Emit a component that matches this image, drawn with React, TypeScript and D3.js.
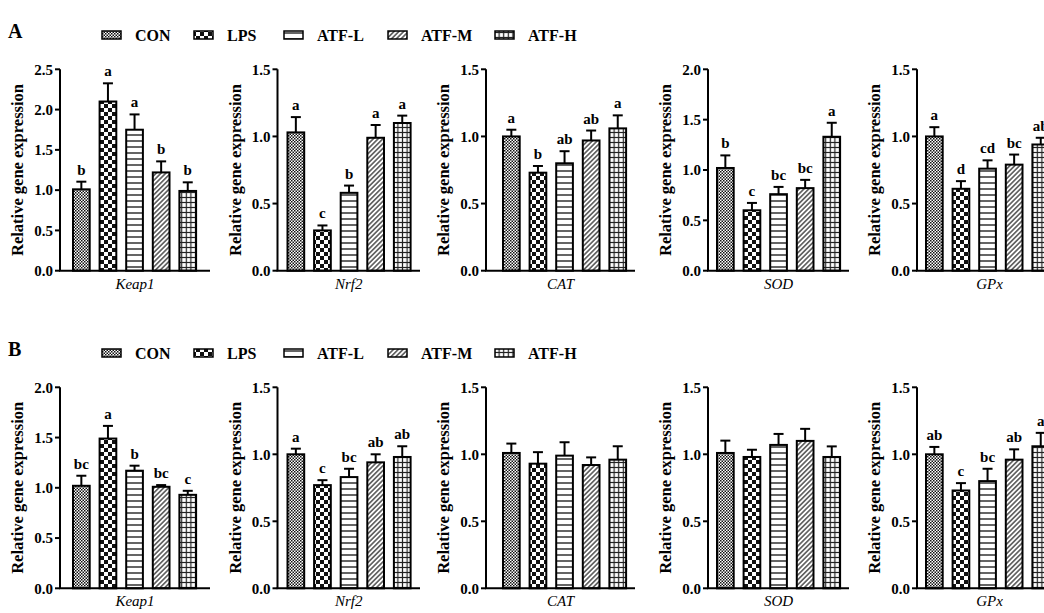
import React from "react";
import * as d3 from "d3";

// groups and genes
const groups = ["CON", "LPS", "ATF-L", "ATF-M", "ATF-H"];
const genes = ["Keap1", "Nrf2", "CAT", "SOD", "GPx"];

// panel A
const yMaxA = [2.5, 1.5, 1.5, 2.0, 1.5];
const meanA = [
  [1.01, 2.1, 1.75, 1.22, 0.99],
  [1.03, 0.3, 0.58, 0.99, 1.1],
  [1.0, 0.73, 0.8, 0.97, 1.06],
  [1.02, 0.6, 0.76, 0.82, 1.33],
  [1.0, 0.61, 0.76, 0.79, 0.94],
];
const errA = [
  [0.095, 0.226, 0.19, 0.137, 0.107],
  [0.114, 0.037, 0.054, 0.095, 0.055],
  [0.05, 0.05, 0.09, 0.074, 0.097],
  [0.125, 0.073, 0.072, 0.082, 0.139],
  [0.069, 0.057, 0.062, 0.075, 0.05],
];
const lettersA = [
  ["b", "a", "a", "b", "b"],
  ["a", "c", "b", "a", "a"],
  ["a", "b", "ab", "ab", "a"],
  ["b", "c", "bc", "bc", "a"],
  ["a", "d", "cd", "bc", "ab"],
];

// panel B
const yMaxB = [2.0, 1.5, 1.5, 1.5, 1.5];
const meanB = [
  [1.02, 1.49, 1.17, 1.01, 0.93],
  [1.0, 0.77, 0.83, 0.94, 0.98],
  [1.01, 0.93, 0.99, 0.92, 0.96],
  [1.01, 0.98, 1.07, 1.1, 0.98],
  [1.0, 0.73, 0.8, 0.96, 1.06],
];
const errB = [
  [0.1, 0.126, 0.05, 0.017, 0.04],
  [0.042, 0.037, 0.062, 0.06, 0.08],
  [0.07, 0.086, 0.1, 0.057, 0.1],
  [0.092, 0.054, 0.082, 0.09, 0.079],
  [0.055, 0.055, 0.092, 0.077, 0.1],
];
const lettersB = [
  ["bc", "a", "b", "bc", "c"],
  ["a", "c", "bc", "ab", "ab"],
  ["", "", "", "", ""],
  ["", "", "", "", ""],
  ["ab", "c", "bc", "ab", "a"],
];

const W = 1044;
const H = 613;
const FONT = "'Liberation Serif', 'Times New Roman', serif";

// layout (pixels)
const axisX = [60, 277.5, 486, 708, 917];
const barStart = [73, 287.5, 503, 717, 926];
const axisEnd = [210, 420, 635, 849, 1062];
const rows = [
  { label: "A", top: 69.3, bottom: 270.7, legendY: 35, labelY: 38, mean: meanA, err: errA, letters: lettersA, yMax: yMaxA },
  { label: "B", top: 387.3, bottom: 588.3, legendY: 353, labelY: 356, mean: meanB, err: errB, letters: lettersB, yMax: yMaxB },
];
const legendTextX = [135, 227, 317, 421, 528];
const patternIds = ["pCon", "pLps", "pAtfL", "pAtfM", "pAtfH"];

function Patterns() {
  return (
    <defs>
      <pattern id="pCon" patternUnits="userSpaceOnUse" width="3" height="3">
        <rect width="3" height="3" fill="#fff" />
        <rect width="1.5" height="1.5" fill="#111" />
        <rect x="1.5" y="1.5" width="1.5" height="1.5" fill="#111" />
      </pattern>
      <pattern id="pLps" patternUnits="userSpaceOnUse" width="8" height="8">
        <rect width="8" height="8" fill="#fff" />
        <rect width="4" height="4" fill="#111" />
        <rect x="4" y="4" width="4" height="4" fill="#111" />
      </pattern>
      <pattern id="pAtfL" patternUnits="userSpaceOnUse" width="6" height="6">
        <rect width="6" height="6" fill="#fff" />
        <line x1="0" x2="6" y1="3" y2="3" stroke="#222" strokeWidth="1.4" />
      </pattern>
      <pattern id="pAtfM" patternUnits="userSpaceOnUse" width="3.4" height="3.4" patternTransform="rotate(45)">
        <rect width="3.4" height="3.4" fill="#fff" />
        <line x1="1.7" x2="1.7" y1="0" y2="3.4" stroke="#222" strokeWidth="1.2" />
      </pattern>
      <pattern id="pAtfH" patternUnits="userSpaceOnUse" width="4.6" height="5">
        <rect width="4.6" height="5" fill="#fff" />
        <line x1="2.3" x2="2.3" y1="0" y2="5" stroke="#222" strokeWidth="1.2" />
        <line x1="0" x2="4.6" y1="2.5" y2="2.5" stroke="#222" strokeWidth="1.2" />
      </pattern>
    </defs>
  );
}

function Panel({ row, gi }) {
  const yMax = row.yMax[gi];
  const y = d3.scaleLinear().domain([0, yMax]).range([row.bottom, row.top]);
  const x = d3
    .scaleBand()
    .domain(groups)
    .range([barStart[gi], barStart[gi] + 4 * 26.6 + 16.7])
    .paddingInner(0.372)
    .paddingOuter(0);
  const ticks = d3.range(0, yMax + 0.001, 0.5);
  const midY = (row.top + row.bottom) / 2;
  const titleX = axisX[gi] - 37;
  return (
    <g>
      {groups.map((g, i) => {
        const m = row.mean[gi][i];
        const e = row.err[gi][i];
        const bx = x(g);
        const cx = bx + x.bandwidth() / 2;
        return (
          <g key={g}>
            <line x1={cx} x2={cx} y1={y(m)} y2={y(m + e)} stroke="#000" strokeWidth={2} />
            <line x1={cx - 5} x2={cx + 5} y1={y(m + e)} y2={y(m + e)} stroke="#000" strokeWidth={2} />
            <rect x={bx} y={y(m)} width={x.bandwidth()} height={row.bottom - y(m)}
              fill={`url(#${patternIds[i]})`} stroke="#000" strokeWidth={2} />
            {row.letters[gi][i] && (
              <text x={cx} y={y(m + e) - 7} textAnchor="middle" fontSize={15} fontWeight="bold"
                fontFamily={FONT}>{row.letters[gi][i]}</text>
            )}
          </g>
        );
      })}
      <line x1={axisX[gi]} x2={axisX[gi]} y1={row.top} y2={row.bottom} stroke="#000" strokeWidth={2} />
      <line x1={axisX[gi] - 1} x2={axisEnd[gi]} y1={row.bottom} y2={row.bottom} stroke="#000" strokeWidth={2} />
      {ticks.map((t) => (
        <g key={t}>
          <line x1={axisX[gi] - 5} x2={axisX[gi]} y1={y(t)} y2={y(t)} stroke="#000" strokeWidth={2} />
          <text x={axisX[gi] - 7} y={y(t)} dy="0.35em" textAnchor="end" fontSize={15} fontWeight="bold"
            fontFamily={FONT}>{d3.format(".1f")(t)}</text>
        </g>
      ))}
      <text transform={`translate(${titleX},${midY}) rotate(-90)`} textAnchor="middle" fontSize={16.5}
        fontWeight="bold" fontFamily={FONT}>Relative gene expression</text>
      <text x={(axisX[gi] + axisEnd[gi]) / 2} y={row.bottom + 18} textAnchor="middle" fontSize={15}
        fontStyle="italic" fontFamily={FONT}>{genes[gi]}</text>
    </g>
  );
}

function Legend({ row }) {
  return (
    <g>
      <text x={8} y={row.labelY} fontSize={20} fontWeight="bold" fontFamily={FONT}>{row.label}</text>
      {groups.map((g, i) => (
        <g key={g}>
          <rect x={legendTextX[i] - 33} y={row.legendY - 4} width={19} height={8}
            fill={`url(#${patternIds[i]})`} stroke="#000" strokeWidth={1.5} />
          <text x={legendTextX[i]} y={row.legendY} dy="0.35em" fontSize={16} fontWeight="bold"
            fontFamily={FONT}>{g}</text>
        </g>
      ))}
    </g>
  );
}

export default function App() {
  return (
    <svg width={W} height={H} style={{ position: "absolute", left: 0, top: 0, background: "#fff" }}>
      <Patterns />
      <rect width={W} height={H} fill="#fff" />
      {rows.map((row) => (
        <g key={row.label}>
          <Legend row={row} />
          {genes.map((g, gi) => (
            <Panel key={g} row={row} gi={gi} />
          ))}
        </g>
      ))}
    </svg>
  );
}
